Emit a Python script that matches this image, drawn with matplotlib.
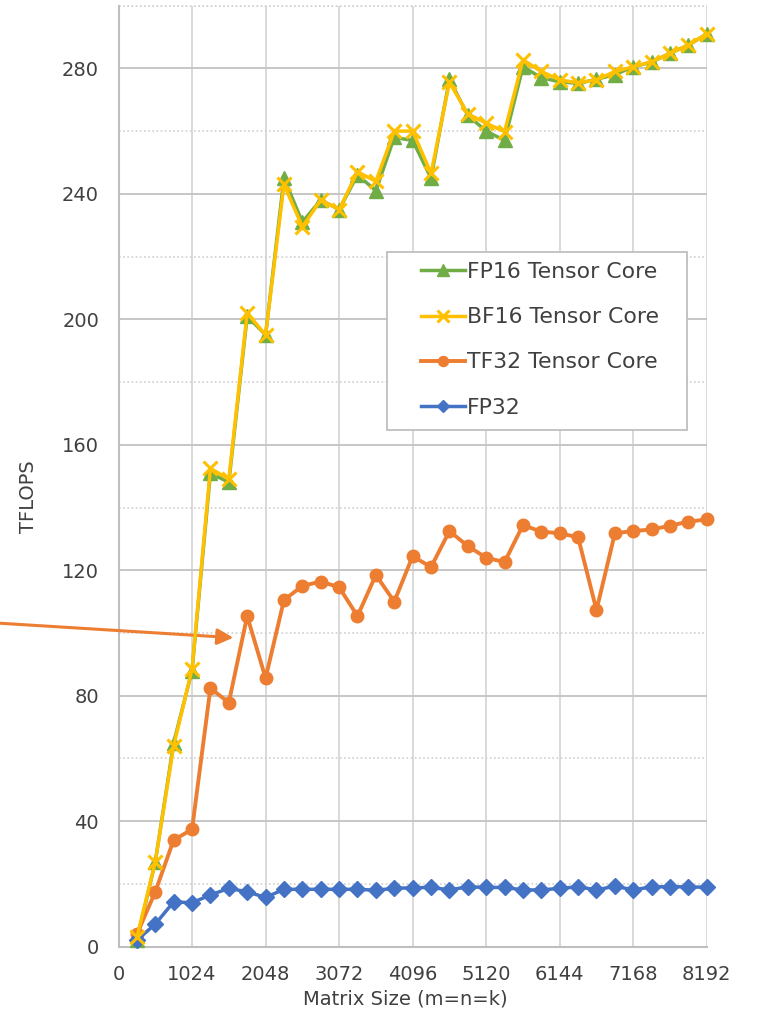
import matplotlib
matplotlib.use("Agg")
import matplotlib.pyplot as plt
from matplotlib.ticker import MultipleLocator, FixedLocator
from matplotlib.patches import Rectangle
from matplotlib import font_manager

sizes = [256, 512, 768, 1024, 1280, 1536, 1792, 2048, 2304, 2560, 2816, 3072,
         3328, 3584, 3840, 4096, 4352, 4608, 4864, 5120, 5376, 5632, 5888, 6144,
         6400, 6656, 6912, 7168, 7424, 7680, 7936, 8192]

fp16 = [2, 27, 65, 88, 151, 148, 201, 195, 245, 231, 238, 235,
        246, 241, 258, 257, 245, 276.5, 265, 260, 257, 280.5, 277, 275.7,
        275.2, 276.5, 278, 280.5, 282, 284.8, 287.4, 291]
bf16 = [3, 27, 64, 88.5, 152.5, 149, 202, 195, 243, 229.5, 238, 235,
        247, 244, 260, 260, 246.5, 275.5, 265.5, 262.5, 259.8, 282.7, 279, 276.3,
        275.4, 276.3, 279, 280.5, 282.1, 284.8, 287.4, 291]
tf32 = [4, 17.5, 34, 37.4, 82.4, 77.8, 105.4, 85.6, 110.5, 115, 116.4, 114.6,
        105.4, 118.5, 110, 124.5, 121, 132.5, 127.7, 124, 122.6, 134.4, 132.3, 131.8,
        130.5, 107.3, 131.8, 132.5, 133, 134.2, 135.5, 136.2]
fp32 = [2.1, 7.2, 14.3, 14, 16.5, 18.6, 17.5, 15.7, 18.3, 18.3, 18.3, 18.3,
        18.3, 18, 18.6, 18.8, 18.9, 18.1, 19.1, 18.9, 18.9, 18.1, 18.1, 18.6,
        19.1, 18.1, 19.3, 18.1, 19.1, 19.1, 19.1, 18.9]

labels = ["FP16 Tensor Core", "BF16 Tensor Core", "TF32 Tensor Core", "FP32"]
xticks = [0, 1024, 2048, 3072, 4096, 5120, 6144, 7168, 8192]
yticks = [0, 40, 80, 120, 160, 200, 240, 280]

c_green = "#70AD47"
c_yellow = "#FFC000"
c_orange = "#ED7D31"
c_blue = "#4472C4"
txt = "#404040"

W, H = 757, 1025
fig = plt.figure(figsize=(W / 100, H / 100), dpi=100)
ax = fig.add_axes([118.5 / W, 1 - 946.7 / H, (706.8 - 118.5) / W, (946.7 - 5.6) / H])

ax.set_xlim(0, 8192)
ax.set_ylim(0, 300)

ax.yaxis.set_major_locator(FixedLocator(yticks))
ax.yaxis.set_minor_locator(MultipleLocator(20))
ax.xaxis.set_major_locator(FixedLocator(xticks))
ax.grid(which="major", axis="y", color="#c6c6c6", lw=1.4, zorder=0)
ax.grid(which="minor", axis="y", color="#d0d0d0", lw=1.2, ls=(0, (1, 1.5)), zorder=0)
ax.grid(which="major", axis="x", color="#d9d9d9", lw=1.4, zorder=0)
ax.set_axisbelow(True)
for s in ["top", "right"]:
    ax.spines[s].set_visible(False)
for s in ["left", "bottom"]:
    ax.spines[s].set_color("#bfbfbf")
    ax.spines[s].set_linewidth(1.5)
ax.axhline(300, color="#d0d0d0", lw=1.2, ls=(0, (1, 1.5)), clip_on=False)

ax.tick_params(which="both", length=0, labelsize=14, labelcolor=txt)
ax.tick_params(axis="y", pad=14)
ax.tick_params(axis="x", pad=13)

ax.plot(sizes, fp16, color=c_green, lw=2.5, marker="^", ms=10, label=labels[0], zorder=3)
ax.plot(sizes, bf16, color=c_yellow, lw=2.5, marker="x", ms=10, mew=2.2, label=labels[1], zorder=4)
ax.plot(sizes, tf32, color=c_orange, lw=2.8, marker="o", ms=9, label=labels[2], zorder=3)
ax.plot(sizes, fp32, color=c_blue, lw=2.5, marker="D", ms=8, label=labels[3], zorder=3)
for a in ax.lines:
    a.set_clip_on(False)

ax.set_xlabel("Matrix Size (m=n=k)", fontsize=14, color=txt)
ax.xaxis.set_label_coords(0.487, -0.046)

names = {f.name for f in font_manager.fontManager.ttflist}
yl_family = ["Liberation Sans Narrow", "DejaVu Sans"] if "Liberation Sans Narrow" in names else ["DejaVu Sans"]
ax.set_ylabel("TFLOPS", fontsize=14, color=txt, family=yl_family)
ax.yaxis.set_label_coords(-0.137, 0.478)

# legend box drawn separately (asymmetric padding as in reference)
fig.patches.append(Rectangle((386.7 / W, 1 - 430 / H), (686.7 - 386.7) / W, (430 - 251.7) / H,
                             transform=fig.transFigure, facecolor="white",
                             edgecolor="#bfbfbf", lw=1.3, zorder=5))
leg = fig.legend(*ax.get_legend_handles_labels(), loc="upper left",
                 bbox_to_anchor=(421 / W, 1 - 262 / H), bbox_transform=fig.transFigure,
                 fontsize=15.8, frameon=False, borderpad=0, borderaxespad=0,
                 handlelength=2.0, handletextpad=0.1, labelspacing=1.15,
                 markerscale=0.8)
leg.set_zorder(6)
for t in leg.get_texts():
    t.set_color(txt)

ax.annotate("", xy=(1600, 98.5), xycoords="data",
            xytext=(-0.005, 1 - 623 / H), textcoords="figure fraction",
            arrowprops=dict(arrowstyle="-|>", color=c_orange, lw=2.2, mutation_scale=24,
                            shrinkA=0, shrinkB=0), annotation_clip=False)

fig.savefig("out.png", dpi=100)
